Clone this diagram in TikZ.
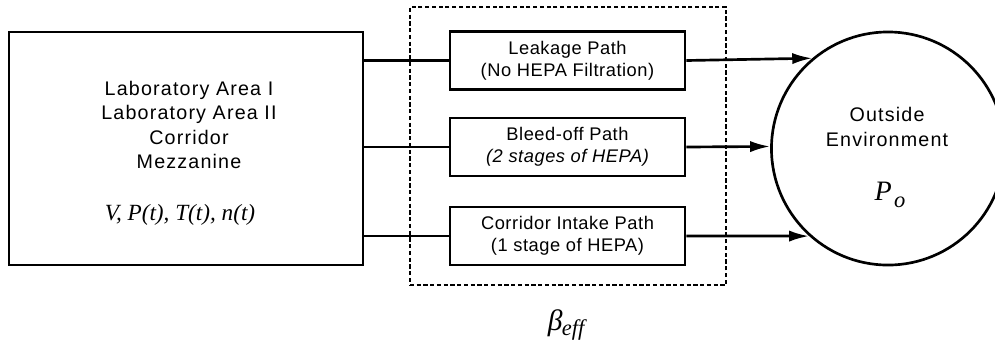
\documentclass[tikz,border=0pt]{standalone}
\usepackage{fontspec}
\setmainfont{Liberation Sans}
\newfontfamily\bigsans[LetterSpace=6]{Liberation Sans}
\newfontfamily\smallsans[LetterSpace=3]{Liberation Sans}
\newfontfamily\tms{Liberation Serif}
\usetikzlibrary{arrows.meta}
\begin{document}
\begin{tikzpicture}[x=0.025cm,y=-0.025cm,
  box/.style={draw,line width=1.9pt,rectangle,inner sep=0pt},
  pathbox/.style={box,minimum width=5.875cm,minimum height=1.45cm,align=center,
    font=\smallsans\fontsize{13}{15.5}\selectfont},
  conn/.style={line width=1.9pt},
  arr/.style={line width=1.9pt,-{Latex[length=5mm,width=2.8mm]}},
  grpbox/.style={draw,line width=1.6pt,dash pattern=on 3pt off 1.8pt,rectangle,inner sep=0pt,
    minimum width=7.9cm,minimum height=6.95cm}]
\useasboundingbox (0,0) rectangle (995,345);
% group
\node[grpbox] (grp) at (568,146) {};
% laboratory box
\node[box,minimum width=8.85cm,minimum height=5.825cm] (lab) at (186,148.5) {};
\node[align=center,font=\bigsans\fontsize{14}{17.5}\selectfont] (labtxt) at (189,125)
  {Laboratory Area I\\Laboratory Area II\\Corridor\\Mezzanine};
\node[font=\tms\itshape\fontsize{16.5}{18}\selectfont] (vars) at (180,215) {V, P(t), T(t), n(t)};
% path boxes
\node[pathbox] (leak) at (567.5,60.5) {Leakage Path\\(No HEPA Filtration)};
\node[pathbox] (bleed) at (567.5,147) {Bleed-off Path\\\itshape(2 stages of HEPA)};
\node[pathbox] (corr) at (567.5,236) {Corridor Intake Path\\(1 stage of HEPA)};
% environment
\node[draw,circle,line width=1.9pt,minimum size=5.825cm,inner sep=0pt] (env) at (888,148.5) {};
\node[align=center,font=\bigsans\fontsize{14}{17.5}\selectfont] (envtxt) at (887,127) {Outside\\Environment};
\node[font=\tms\itshape\fontsize{20}{21}\selectfont] (po) at (890,195) {P\kern1.5pt\raisebox{-5pt}{\fontsize{16}{16}\selectfont o}};
\node[font=\tms\itshape\fontsize{21}{22}\selectfont] (beta) at (566,325) {β\kern-0.5pt\raisebox{-4pt}{\fontsize{16}{16}\selectfont eff}};
% connectors
\draw[conn] (lab.east |- leak.west) -- (leak.west);
\draw[conn] (lab.east |- bleed.west) -- (bleed.west);
\draw[conn] (lab.east |- corr.west) -- (corr.west);
\draw[arr] (leak.east) -- (env.130.94);
\draw[arr] (bleed.east) -- (env.179);
\draw[arr] (corr.east) -- (env.228.67);
\end{tikzpicture}
\end{document}
